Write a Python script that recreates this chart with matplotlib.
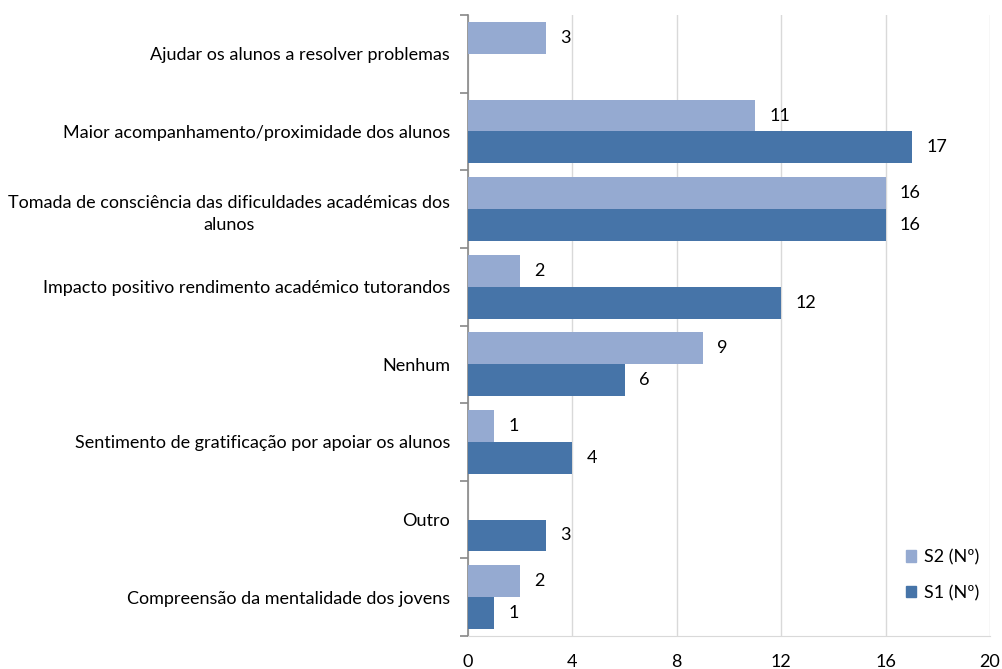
import numpy as np
import matplotlib.pyplot as plt

plt.rcParams["font.family"] = ["Lato", "DejaVu Sans"]

categories = [
    "Ajudar os alunos a resolver problemas",
    "Maior acompanhamento/proximidade dos alunos",
    "Tomada de consciência das dificuldades académicas dos\nalunos",
    "Impacto positivo rendimento académico tutorandos",
    "Nenhum",
    "Sentimento de gratificação por apoiar os alunos",
    "Outro",
    "Compreensão da mentalidade dos jovens",
]
s2 = [3, 11, 16, 2, 9, 1, None, 2]
s1 = [None, 17, 16, 12, 6, 4, 3, 1]
xticks = [0, 4, 8, 12, 16, 20]

light = "#95AAD1"
dark = "#4674A8"
fs = 13

fig = plt.figure(figsize=(10.02, 6.69), dpi=100)
ax = fig.add_axes([468 / 1002, 33 / 669, 522 / 1002, 621 / 669])

n = len(categories)
y = np.arange(n)
h = 0.41

for i in range(n):
    if s2[i] is not None:
        ax.barh(y[i] - h / 2, s2[i], height=h, color=light, zorder=3)
        ax.text(s2[i] + 0.55, y[i] - h / 2, str(s2[i]), va="center", ha="left", fontsize=fs)
    if s1[i] is not None:
        ax.barh(y[i] + h / 2, s1[i], height=h, color=dark, zorder=3)
        ax.text(s1[i] + 0.55, y[i] + h / 2, str(s1[i]), va="center", ha="left", fontsize=fs)

ax.set_ylim(n - 0.5, -0.5)
ax.set_xlim(0, 20)
ax.set_xticks(xticks)
ax.set_xticklabels([str(t) for t in xticks], fontsize=fs)
ax.xaxis.grid(True, color="#D9D9D9", linewidth=1, zorder=0)
ax.tick_params(axis="x", length=0, pad=13)

ax.set_yticks(y)
ax.set_yticklabels(categories, fontsize=fs, ha="right", linespacing=1.5)
for lbl in ax.get_yticklabels():
    lbl.set_multialignment("center")
ax.tick_params(axis="y", which="major", length=0, pad=13)
ax.set_yticks(np.arange(-0.5, n, 1.0), minor=True)
ax.tick_params(axis="y", which="minor", length=6, color="#888888", width=1.2)

for side in ["top", "right"]:
    ax.spines[side].set_visible(False)
ax.spines["bottom"].set_color("#D9D9D9")
ax.spines["left"].set_color("#888888")
ax.spines["left"].set_linewidth(1.2)

handles = [
    plt.Rectangle((0, 0), 1, 1, color=light),
    plt.Rectangle((0, 0), 1, 1, color=dark),
]
ax.legend(handles, ["S2 (Nº)", "S1 (Nº)"], loc="lower right", frameon=False,
          fontsize=fs, handlelength=0.6, handleheight=0.6, handletextpad=0.4,
          labelspacing=1.1, bbox_to_anchor=(1.01, 0.03))

fig.savefig("out.png", dpi=100)
